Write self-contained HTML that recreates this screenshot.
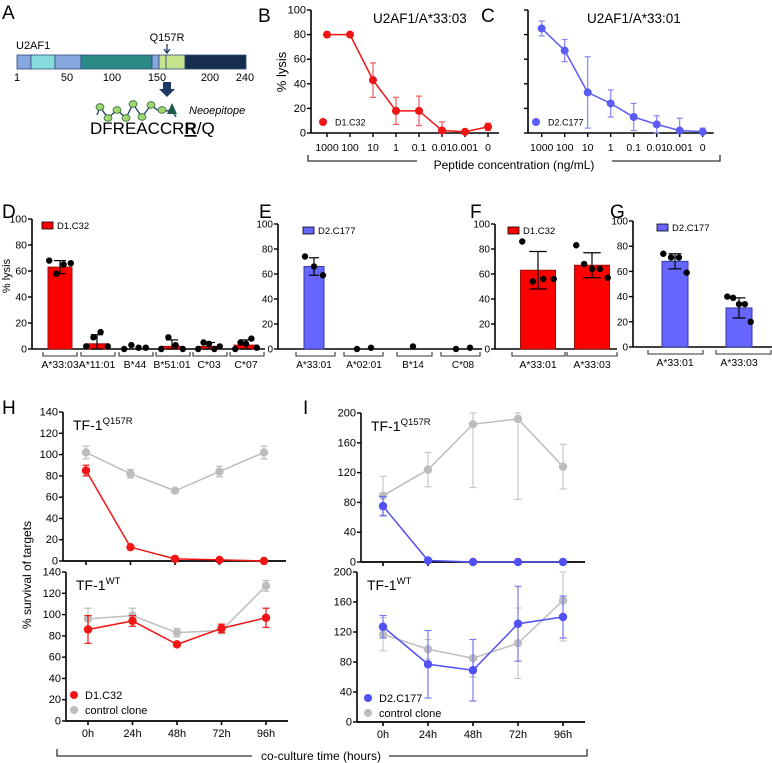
<!DOCTYPE html>
<html><head><meta charset="utf-8"><style>
html,body{margin:0;padding:0;background:#fff}
svg{display:block;font-family:"Liberation Sans",Arial,sans-serif}
</style></head><body>
<svg id="fig" width="772" height="763" viewBox="0 0 772 763" xmlns="http://www.w3.org/2000/svg">
<g>
<text x="2" y="19" font-size="19">A</text>
<text x="16" y="49" font-size="11">U2AF1</text>
<g stroke="#2c4a7a" stroke-width="0.8">
<rect x="17" y="55" width="14" height="14" fill="#86a8de"/>
<rect x="31" y="55" width="24" height="14" fill="#86dcdc"/>
<rect x="55" y="55" width="26" height="14" fill="#86a8de"/>
<rect x="81" y="55" width="71" height="14" fill="#2a8a85"/>
<rect x="152" y="55" width="7" height="14" fill="#86a8de"/>
<rect x="159" y="55" width="7" height="14" fill="#c8e38e"/>
<rect x="166" y="55" width="19" height="14" fill="#c8e38e"/>
<rect x="185" y="55" width="61" height="14" fill="#162d4d"/>
</g>
<g font-size="11" text-anchor="middle">
<text x="17" y="81">1</text><text x="67" y="81">50</text><text x="112" y="81">100</text><text x="157" y="81">150</text><text x="210" y="81">200</text><text x="245" y="81">240</text>
</g>
<text x="167" y="41" font-size="11" text-anchor="middle">Q157R</text>
<path d="M167 44 V52 M164 49 L167 53 L170 49" stroke="#1d3a66" stroke-width="1.3" fill="none"/>
<path d="M163 82 H171 V89 H175 L167 97 L159 89 H163 Z" fill="#1d3a66"/>
<path d="M97 115 L100 107 L108 118 L117 110 L126 118 L133 104 L142 117 L151 105 L160 112 L172 110 L176 117" stroke="#1d3a66" stroke-width="1.3" fill="none"/>
<g fill="#a2d66e" stroke="#2d6a3a" stroke-width="0.8">
<ellipse cx="100" cy="107" rx="4" ry="3.3"/><ellipse cx="108" cy="118" rx="4" ry="3.3"/><ellipse cx="117" cy="110" rx="4" ry="3.3"/><ellipse cx="126" cy="118" rx="4" ry="3.3"/><ellipse cx="133" cy="104" rx="4" ry="3.3"/><ellipse cx="142" cy="117" rx="4" ry="3.3"/><ellipse cx="151" cy="105" rx="4" ry="3.3"/><ellipse cx="162" cy="110" rx="4" ry="3.3"/>
</g>
<path d="M167 114 L172 103 L177 114 Z" fill="#1d5a4a"/>
<text x="189" y="114" font-size="11" font-style="italic">Neoepitope</text>
<text x="90" y="134" font-size="17">DFREACCR<tspan font-weight="bold" text-decoration="underline">R</tspan>/Q</text>
</g>
<text x="258" y="22" font-size="19">B</text>
<text x="481" y="22" font-size="19">C</text>
<text x="2" y="218" font-size="19">D</text>
<text x="259" y="218" font-size="19">E</text>
<text x="470" y="218" font-size="19">F</text>
<text x="610" y="218" font-size="19">G</text>
<text x="2" y="414" font-size="19">H</text>
<text x="303" y="414" font-size="19">I</text>
</svg>
<script>
// ---------- data ----------
var concLabels = ["1000","100","10","1","0.1","0.01","0.001","0"];
var bVals = [80,80,43,18,18,2,1,5];
var bErr = [2,1,14,11,12,7,1,3];
var cVals = [85,67,33,24,13,7,2,1];
var cErr = [6,9,29,11,11,7,10,3];
var lysisTicks = [0,20,40,60,80,100];

var dCats = ["A*33:03","A*11:01","B*44","B*51:01","C*03","C*07"];
var dMeans = [63,4,0,2,2,3];
var dSD = [5,7,0,5,3,4];
var dPts = [[68,58,65,66],[2,9,13,2],[0,3,1,1],[0,9,3,0],[0,5,4,0,2],[0,5,4,8,1]];

var eCats = ["A*33:01","A*02:01","B*14","C*08"];
var eMeans = [66,0,0,0];
var eSD = [7,0,0,0];
var ePts = [[74,66,59],[0,1],[2],[0,1]];

var fCats = ["A*33:01","A*33:03"];
var fMeans = [63,67];
var fSD = [15,10];
var fPts = [[86,54,56,56],[83,68,64,64,57]];

var gCats = ["A*33:01","A*33:03"];
var gMeans = [68,31];
var gSD = [6,8];
var gPts = [[74,71,71,59],[40,39,34,34,20]];

var timeLabels = ["0h","24h","48h","72h","96h"];
var hTopRed = [85,13,2,1,0];
var hTopRedErr = [5,0,0,0,0];
var hTopGray = [102,82,66,84,102];
var hTopGrayErr = [6,4,0,5,6];
var hBotRed = [86,94,72,87,97];
var hBotRedErr = [13,5,0,4,9];
var hBotGray = [96,99,83,85,127];
var hBotGrayErr = [10,7,4,3,5];
var hTicks = [0,20,40,60,80,100,120,140];

var iTopBlue = [75,2,0,0,0];
var iTopBlueErr = [13,0,0,0,0];
var iTopGray = [89,124,185,192,128];
var iTopGrayLo = [26,23,85,108,30];
var iTopGrayHi = [26,23,15,8,30];
var iBotBlue = [127,77,69,131,140];
var iBotBlueErr = [15,45,41,50,28];
var iBotGray = [117,97,85,105,162];
var iBotGrayLo = [22,13,25,47,54];
var iBotGrayHi = [22,13,25,47,38];
var iTicks = [0,40,80,120,160,200];

// ---------- helpers ----------
var NS="http://www.w3.org/2000/svg", svg=document.getElementById('fig');
function mk(tag,attrs,parent){var e=document.createElementNS(NS,tag);for(var k in attrs)e.setAttribute(k,attrs[k]);(parent||svg).appendChild(e);return e;}
function grp(name){var g=document.createElementNS(NS,'g');


svg.appendChild(g);return g;}
function ln(g,x1,y1,x2,y2,c,w){return mk('line',{x1:x1,y1:y1,x2:x2,y2:y2,stroke:c,'stroke-width':w||1},g);}
function tx(g,x,y,s,size,anchor,extra){var t=mk('text',{x:x,y:y,'font-size':size,'text-anchor':anchor||'start'},g);if(extra)for(var k in extra)t.setAttribute(k,extra[k]);t.textContent=s;return t;}
function yScale(y0,yTop,max){return function(v){return y0-(v/max)*(y0-yTop);};}
function xIdx(x0,step){return function(i){return x0+i*step;};}

function yAxis(g,ax,sy,ticks,labels,top,bottom){
  ln(g,ax,top,ax,bottom,'#000',1.6);
  ticks.forEach(function(v){var y=sy(v);ln(g,ax-4,y,ax,y,'#000',1.4);if(labels)tx(g,ax-5,y+3.5,String(v),labels,'end');});
}
function errBar(g,x,y1,y2,c,w){ln(g,x,y1,x,y2,c,1.2);ln(g,x-w,y1,x+w,y1,c,1.2);ln(g,x-w,y2,x+w,y2,c,1.2);}

// ---------- B & C ----------
function dose(name,ax,x0,vals,err,color,ecolor,title,titleX,legX,legLabel,labelsOn){
  var g=grp(name);
  var sy=yScale(133,10,100), sx=xIdx(x0,23);
  yAxis(g,ax,sy,lysisTicks,labelsOn?11:0,10,133);
  ln(g,ax,133,sx(7)+11,133,'#000',1.6);
  concLabels.forEach(function(l,i){ln(g,sx(i),133,sx(i),137,'#000',1.4);tx(g,sx(i),151,l,10.5,'middle');});
  vals.forEach(function(v,i){errBar(g,sx(i),sy(Math.min(100,v+err[i])),sy(Math.max(0,v-err[i])),ecolor,3);});
  var d=vals.map(function(v,i){return (i?'L':'M')+sx(i)+' '+sy(v);}).join(' ');
  var p=mk('path',{d:d,stroke:color,'stroke-width':1.5,fill:'none'},g);
  
  
  vals.forEach(function(v,i){var c=mk('circle',{cx:sx(i),cy:sy(v),r:4,fill:color},g);
    
    });
  tx(g,titleX,23,title,13.5,'start');
  mk('circle',{cx:legX,cy:122,r:4,fill:color},g);
  tx(g,legX+12,125.5,legLabel,9,'start');
}
dose('chart-b',311,327,bVals,bErr,'#f01414','#f05a5a','U2AF1/A*33:03',373,323,'D1.C32',true);
dose('chart-c',528,541.7,cVals,cErr,'#5b5bf5','#8585f5','U2AF1/A*33:01',587,536,'D2.C177',false);
var gb=grp('peptide-axis-bracket');
mk('path',{d:'M308 155 V161 H417',stroke:'#333','stroke-width':1.3,fill:'none'},gb);
mk('path',{d:'M612 161 H720 V155',stroke:'#333','stroke-width':1.3,fill:'none'},gb);
tx(gb,514,169,'Peptide concentration (ng/mL)',12,'middle');

// ---------- bar charts ----------
function bars(name,ax,y0,yTop,axEnd,cx,bw,cats,means,sd,pts,color,edge,brk,legX,labelSize,tickLabels){
  var g=grp(name);
  var sy=yScale(y0,yTop,100);
  yAxis(g,ax,sy,lysisTicks,tickLabels,yTop,y0);
  ln(g,ax,y0,axEnd,y0,'#000',1.6);
  cats.forEach(function(c,i){
    var x=cx[i], h=y0-sy(means[i]);
    if(means[i]>0){var r=mk('rect',{x:x-bw/2,y:sy(means[i]),width:bw,height:h,fill:color,stroke:edge,'stroke-width':1},g);
      
      }
    if(sd[i]>0)errBar(g,x,sy(means[i]+sd[i]),sy(Math.max(0,means[i]-sd[i])),'#000',bw/4);
    var n=pts[i].length;
    pts[i].forEach(function(v,j){var off=n>1?(j-(n-1)/2)*(bw*0.9/(n>1?n-1:1)):0;if(n===2)off=(j-0.5)*14;
      var p=mk('circle',{cx:x+off,cy:sy(v),r:3.2,fill:'#000'},g);
      
      });
    mk('path',{d:'M'+brk[i][0]+' '+(y0+3)+' V'+(y0+7)+' H'+brk[i][1]+' V'+(y0+3),stroke:'#333','stroke-width':1.1,fill:'none'},g);
    tx(g,x,y0+19,c,labelSize,'middle');
  });
  mk('rect',{x:legX,y:yTop+3,width:11,height:7,fill:color,stroke:'#000','stroke-width':0.8},g);
  tx(g,legX+15,yTop+10,name==='chart-d'||name==='chart-f'?'D1.C32':'D2.C177',9.5,'start');
}
bars('chart-d',32,349,219,265,[60,97,135,172,209,246],24,dCats,dMeans,dSD,dPts,'#ff0000','#9a1010',[[43,77],[81,115],[119,153],[156,190],[193,227],[230,264]],42,10.5,10.5);
bars('chart-e',278,349,224,482,[314,364,413,463],20,eCats,eMeans,eSD,ePts,'#6666ff','#3a3aa8',[[296,335],[344,383],[397,432],[441,480]],303,10,10);
bars('chart-f',495,349,224,617,[538,592],35,fCats,fMeans,fSD,fPts,'#ff0000','#9a1010',[[512,565],[567,617]],508,10.5,10);
bars('chart-g',633,347,221,772,[675,739],26,gCats,gMeans,gSD,gPts,'#6666ff','#3a3aa8',[[648,703],[716,771]],657,10.5,10);
var yl=grp('lysis-axis-title');
tx(yl,0,0,'% lysis',11,'middle',{transform:'translate(10,276) rotate(-90)'});
tx(yl,0,0,'% lysis',13,'middle',{transform:'translate(286,72) rotate(-90)'});

// ---------- time courses ----------
function tseries(g,name,sx,sy,vals,lo,hi,color,ecolor,max){
  vals.forEach(function(v,i){if(lo[i]>0||hi[i]>0)errBar(g,sx(i),sy(Math.min(max,v+hi[i])),sy(Math.max(0,v-lo[i])),ecolor,3.5);});
  var d=vals.map(function(v,i){return (i?'L':'M')+sx(i)+' '+sy(v);}).join(' ');
  var p=mk('path',{d:d,stroke:color,'stroke-width':1.5,fill:'none'},g);
  
  
  vals.forEach(function(v,i){var c=mk('circle',{cx:sx(i),cy:sy(v),r:4.2,fill:color},g);
    
    });
}
function tpanel(name,ax,y0,yTop,max,ticks,x0,step,title,sup,bottom){
  var g=grp(name);
  var sy=yScale(y0,yTop,max), sx=xIdx(x0,step);
  yAxis(g,ax,sy,ticks,11,yTop,y0);
  ln(g,ax,y0,sx(4)+22,y0,'#000',1.8);
  timeLabels.forEach(function(l,i){ln(g,sx(i),y0,sx(i),y0+4,'#000',1.6);if(bottom)tx(g,sx(i),y0+16,l,11,'middle');});
  var t=tx(g,ax+10,yTop+18,title,14,'start');
  var s=mk('tspan',{'font-size':9.5,dy:-6},t);s.textContent=sup;
  return {g:g,sx:sx,sy:sy};
}
var H1=tpanel('chart-h-top',63,561,412,140,hTicks,86,44.5,'TF-1','Q157R',false);
tseries(H1.g,'h-top-control',H1.sx,H1.sy,hTopGray,hTopGrayErr,hTopGrayErr,'#bdbdbd','#bdbdbd',140);
tseries(H1.g,'h-top-d1c32',H1.sx,H1.sy,hTopRed,hTopRedErr,hTopRedErr,'#f01414','#f01414',140);
var H2=tpanel('chart-h-bottom',66,721,572,140,hTicks,88,44.5,'TF-1','WT',true);
tseries(H2.g,'h-bottom-control',H2.sx,H2.sy,hBotGray,hBotGrayErr,hBotGrayErr,'#bdbdbd','#bdbdbd',140);
tseries(H2.g,'h-bottom-d1c32',H2.sx,H2.sy,hBotRed,hBotRedErr,hBotRedErr,'#f01414','#f01414',140);
mk('circle',{cx:74,cy:695,r:4,fill:'#f01414'},H2.g);tx(H2.g,85,699,'D1.C32',11,'start');
mk('circle',{cx:74,cy:710,r:4,fill:'#bdbdbd'},H2.g);tx(H2.g,85,714,'control clone',11,'start');

var I1=tpanel('chart-i-top',361,562,413,200,iTicks,383,45,'TF-1','Q157R',false);
tseries(I1.g,'i-top-control',I1.sx,I1.sy,iTopGray,iTopGrayLo,iTopGrayHi,'#bdbdbd','#c8c8c8',200);
tseries(I1.g,'i-top-d2c177',I1.sx,I1.sy,iTopBlue,iTopBlueErr,iTopBlueErr,'#5050f5','#6a6af5',200);
var I2=tpanel('chart-i-bottom',357,722,572,200,iTicks,383,45,'TF-1','WT',true);
tseries(I2.g,'i-bottom-control',I2.sx,I2.sy,iBotGray,iBotGrayLo,iBotGrayHi,'#bdbdbd','#c8c8c8',200);
tseries(I2.g,'i-bottom-d2c177',I2.sx,I2.sy,iBotBlue,iBotBlueErr,iBotBlueErr,'#5050f5','#7a7af5',200);
mk('circle',{cx:368,cy:698,r:4,fill:'#5050f5'},I2.g);tx(I2.g,379,702,'D2.C177',11,'start');
mk('circle',{cx:368,cy:713,r:4,fill:'#bdbdbd'},I2.g);tx(I2.g,379,717,'control clone',11,'start');

var ht=grp('survival-axis-title');
tx(ht,0,0,'% survival of targets',12,'middle',{transform:'translate(31,575) rotate(-90)'});
var tb=grp('time-axis-bracket');
mk('path',{d:'M57 749 V756 H252',stroke:'#333','stroke-width':1.3,fill:'none'},tb);
mk('path',{d:'M389 756 H587 V749',stroke:'#333','stroke-width':1.3,fill:'none'},tb);
tx(tb,321,760,'co-culture time (hours)',12,'middle');
</script>
</body></html>
